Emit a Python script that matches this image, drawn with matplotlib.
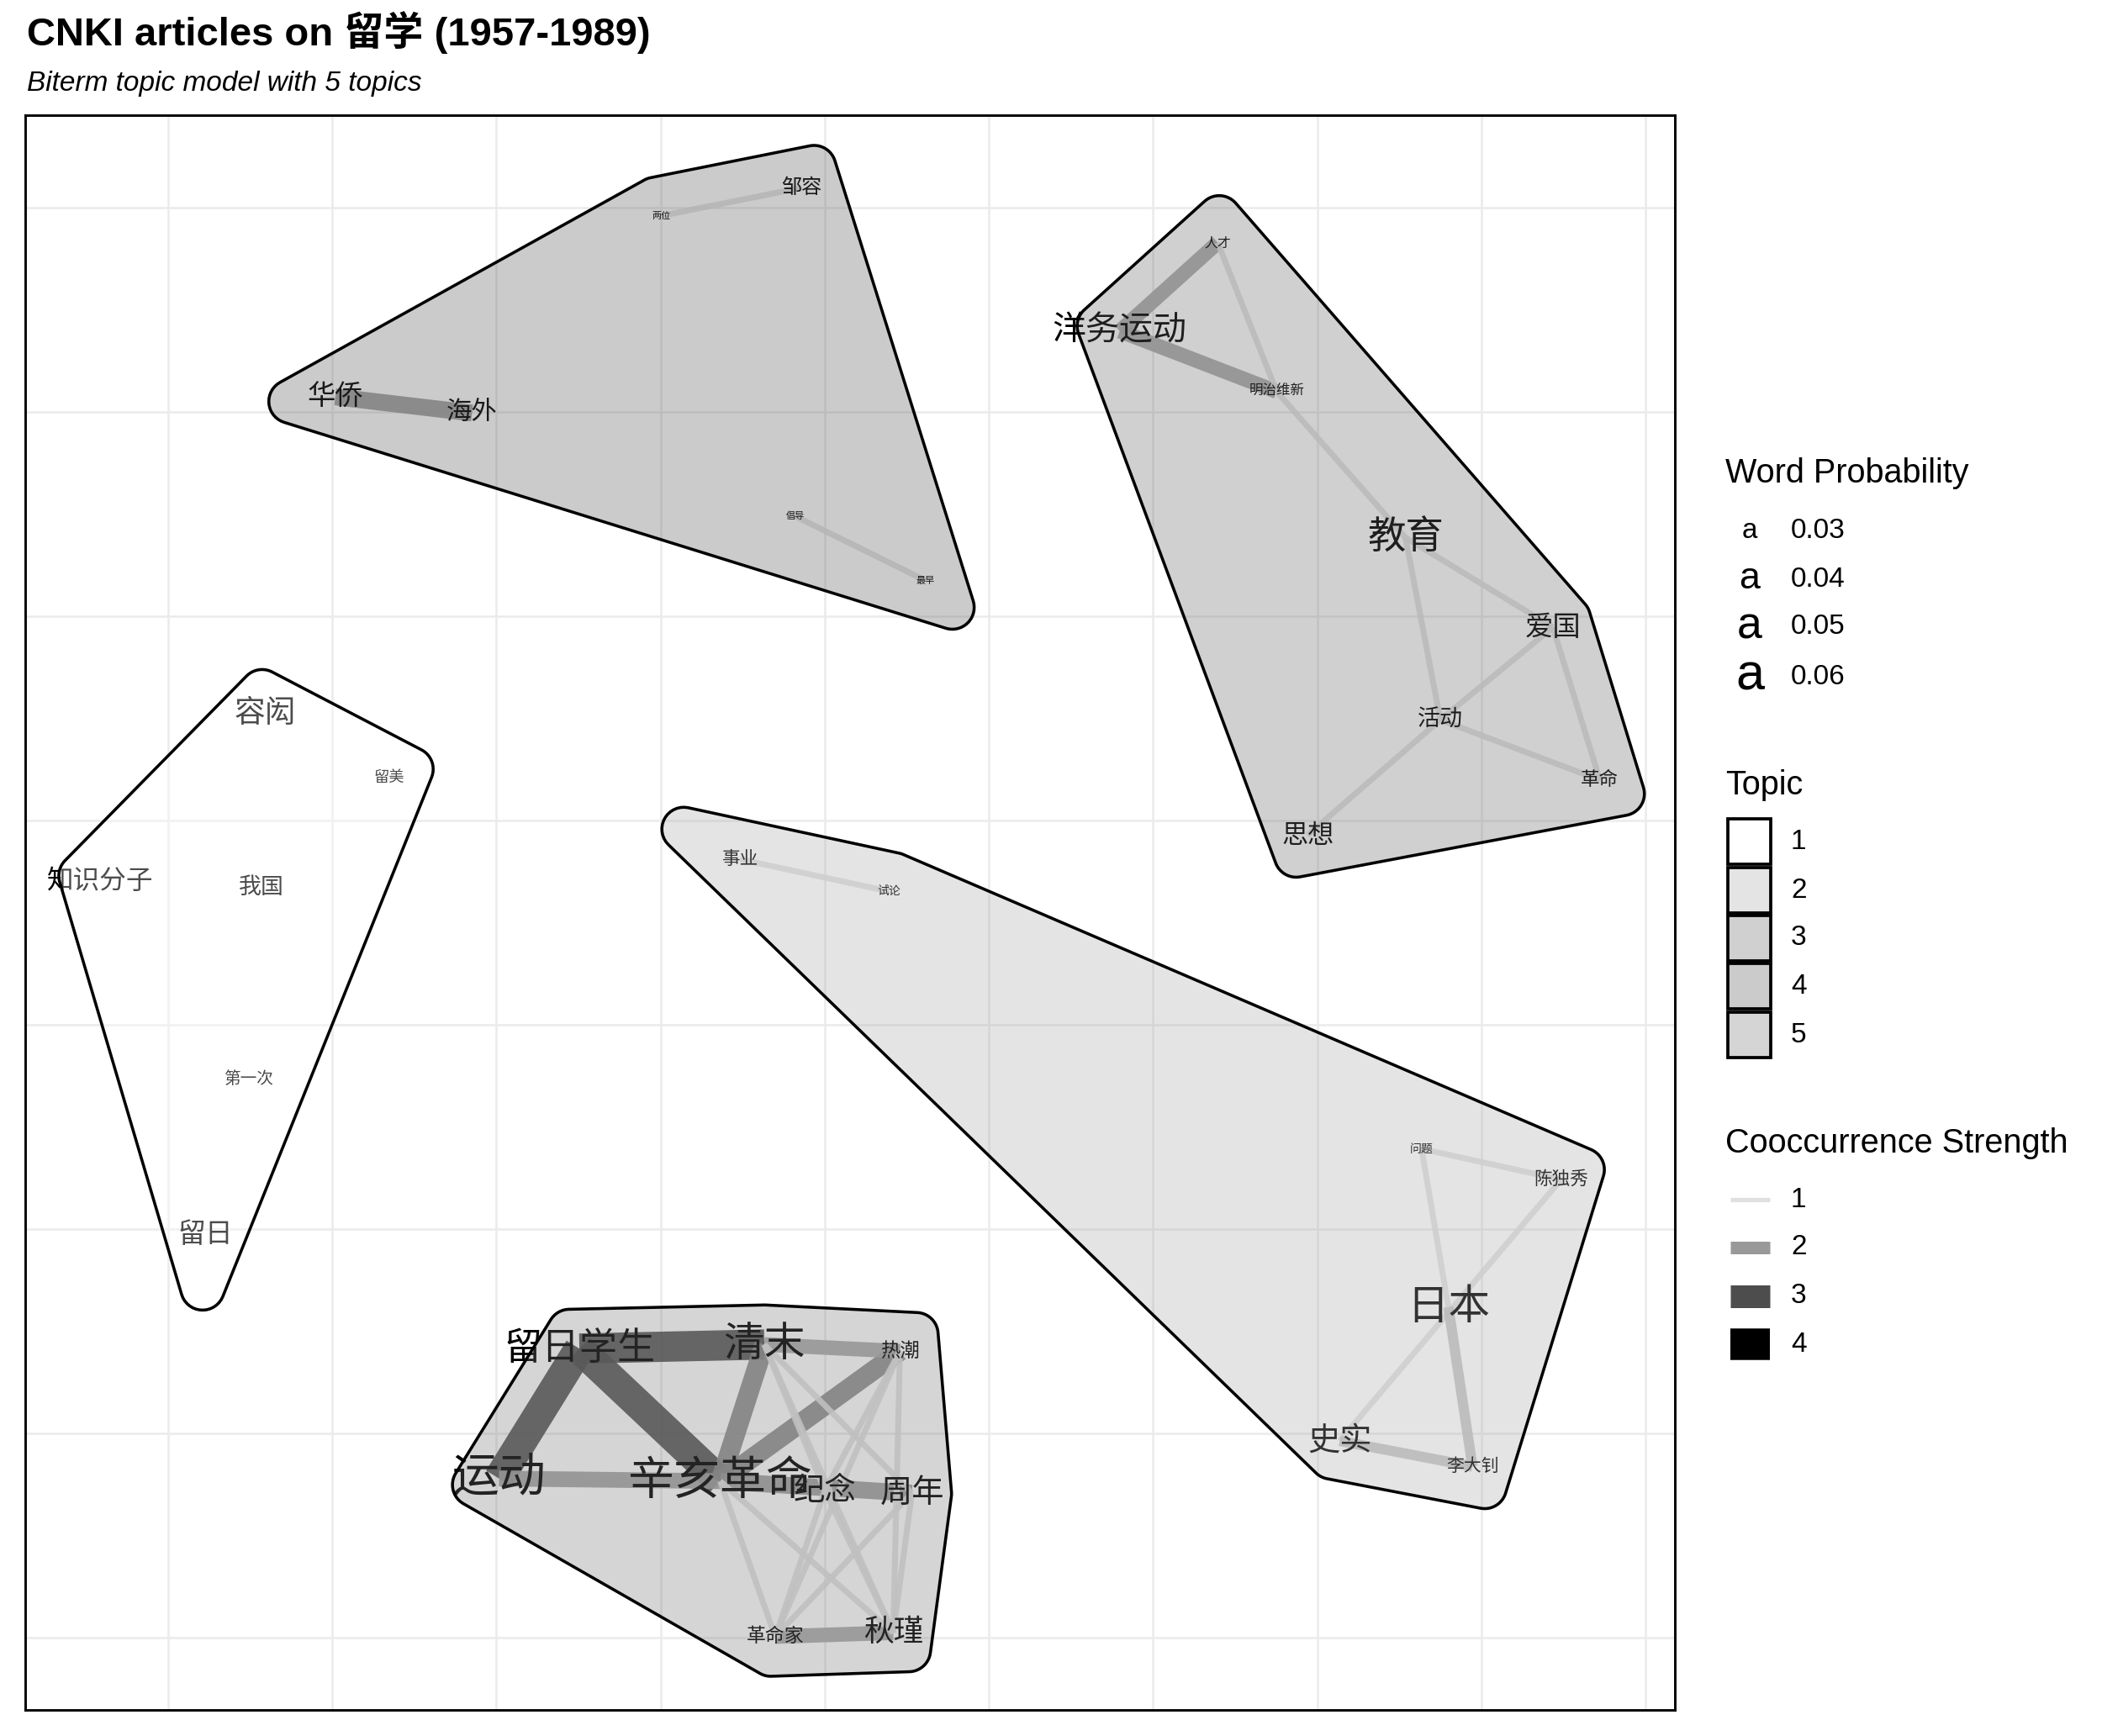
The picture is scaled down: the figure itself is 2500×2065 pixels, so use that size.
import numpy as np
import matplotlib
matplotlib.use("Agg")
import matplotlib.pyplot as plt
from matplotlib.patches import Polygon, Rectangle
from matplotlib.lines import Line2D

plt.rcParams['font.family'] = ['Liberation Sans', 'Noto Sans CJK SC', 'DejaVu Sans']

W, H, DPI = 2500, 2065, 300

# word nodes: label, topic, layout position, word probability
words = ['容闳', '留美', '知识分子', '我国', '第一次', '留日',
         '事业', '试论', '问题', '陈独秀', '日本', '史实', '李大钊',
         '人才', '洋务运动', '明治维新', '教育', '爱国', '活动', '革命', '思想',
         '华侨', '海外', '两位', '邹容', '倡导', '最早',
         '留日学生', '清末', '热潮', '运动', '辛亥革命', '纪念', '周年', '革命家', '秋瑾']
topic = [1, 1, 1, 1, 1, 1,
         2, 2, 2, 2, 2, 2, 2,
         3, 3, 3, 3, 3, 3, 3, 3,
         4, 4, 4, 4, 4, 4,
         5, 5, 5, 5, 5, 5, 5, 5, 5]
x = [1.593, 2.345, 0.588, 1.569, 1.487, 1.225,
     4.485, 5.392, 8.636, 9.485, 8.799, 8.137, 8.946,
     7.394, 6.797, 7.753, 8.538, 9.436, 8.750, 9.722, 7.941,
     2.018, 2.851, 4.003, 4.861, 4.820, 5.613,
     3.505, 4.632, 5.458, 3.015, 4.363, 5.000, 5.531, 4.698, 5.417]
y = [5.526, 5.211, 4.705, 4.673, 3.734, 2.973,
     4.810, 4.653, 3.393, 3.242, 2.619, 1.963, 1.838,
     7.829, 7.396, 7.100, 6.385, 5.946, 5.493, 5.198, 4.928,
     7.074, 6.995, 7.960, 8.098, 6.490, 6.175,
     2.415, 2.435, 2.402, 1.779, 1.766, 1.720, 1.707, 1.005, 1.024]
prob = [0.0327, 0.0220, 0.0289, 0.0260, 0.0225, 0.0298,
        0.0233, 0.0207, 0.0207, 0.0233, 0.0452, 0.0340, 0.0230,
        0.0212, 0.0355, 0.0214, 0.0407, 0.0301, 0.0260, 0.0237, 0.0286,
        0.0301, 0.0281, 0.0201, 0.0245, 0.0201, 0.0201,
        0.0403, 0.0443, 0.0241, 0.0528, 0.0517, 0.0333, 0.0340, 0.0239, 0.0320]

# cooccurrence edges
edge_from = ['华侨', '两位', '倡导',
             '洋务运动', '洋务运动', '人才', '明治维新', '教育', '教育', '爱国', '爱国', '活动', '活动',
             '事业', '问题', '问题', '陈独秀', '日本', '史实',
             '留日学生', '留日学生', '留日学生', '运动', '清末', '辛亥革命', '清末', '辛亥革命', '革命家',
             '清末', '清末', '清末', '热潮', '热潮', '热潮', '辛亥革命', '辛亥革命',
             '纪念', '纪念', '周年', '周年']
edge_to = ['海外', '邹容', '最早',
           '人才', '明治维新', '明治维新', '教育', '爱国', '活动', '活动', '革命', '革命', '思想',
           '试论', '陈独秀', '日本', '史实', '李大钊', '李大钊',
           '运动', '清末', '辛亥革命', '辛亥革命', '辛亥革命', '热潮', '热潮', '周年', '秋瑾',
           '纪念', '周年', '秋瑾', '纪念', '革命家', '秋瑾', '革命家', '秋瑾',
           '革命家', '秋瑾', '革命家', '秋瑾']
edge_strength = [2.0, 1.0, 1.0,
                 1.8, 1.8, 1.0, 1.0, 1.0, 1.0, 1.0, 1.0, 1.0, 1.0,
                 1.0, 1.0, 1.0, 1.0, 1.4, 1.4,
                 3.0, 3.0, 3.0, 1.9, 2.2, 2.2, 1.8, 2.0, 1.8,
                 1.0, 1.0, 1.0, 1.0, 1.0, 1.0, 1.0, 1.0,
                 1.0, 1.0, 1.0, 1.0]

topic_ids = [1, 2, 3, 4, 5]
topic_grey = [255, 168, 102, 85, 118]
prob_breaks = [0.03, 0.04, 0.05, 0.06]
strength_breaks = [1, 2, 3, 4]

HULL_ALPHA = 0.3
CJK = ['Noto Sans CJK SC', 'DejaVu Sans']


def word_size(p):
    return 1.0 + 68 * np.sqrt(max(p - 0.0195, 0))


def edge_width(s):
    return np.interp(s, [1, 2, 3, 4], [7, 20, 36, 50]) * 72 / DPI


def edge_grey(s):
    v = np.interp(s, [1, 2, 3, 4], [224, 153, 77, 0]) / 255
    return (v, v, v)


def convex_hull(pts):
    pts = sorted(map(tuple, pts))
    def cross(o, a, b):
        return (a[0] - o[0]) * (b[1] - o[1]) - (a[1] - o[1]) * (b[0] - o[0])
    lower, upper = [], []
    for p in pts:
        while len(lower) >= 2 and cross(lower[-2], lower[-1], p) <= 0:
            lower.pop()
        lower.append(p)
    for p in reversed(pts):
        while len(upper) >= 2 and cross(upper[-2], upper[-1], p) <= 0:
            upper.pop()
        upper.append(p)
    return np.array(lower[:-1] + upper[:-1])


def rounded_hull(pts, expand=47, radius=26):
    hv = convex_hull(pts)
    n = len(hv)
    normals = []
    for i in range(n):
        t = hv[(i + 1) % n] - hv[i]
        t = t / np.hypot(*t)
        normals.append(np.array([t[1], -t[0]]))
    d1 = expand - radius
    out = []
    for i in range(n):
        n0, n1 = normals[i - 1], normals[i]
        w = hv[i] + d1 * (n0 + n1) / (1 + n0 @ n1)
        a0 = np.arctan2(n0[1], n0[0])
        a1 = np.arctan2(n1[1], n1[0])
        if a1 < a0:
            a1 += 2 * np.pi
        for a in np.linspace(a0, a1, 16):
            out.append(w + radius * np.array([np.cos(a), np.sin(a)]))
    return np.array(out)


fig = plt.figure(figsize=(W / DPI, H / DPI), dpi=DPI)
ax = fig.add_axes([30 / W, 1 - 2034 / H, 1962 / W, 1897 / H])
ax.set_xlim(0.129, 10.179)
ax.set_ylim(0.646, 8.453)
ax.set_xticks(range(1, 11))
ax.set_yticks(range(1, 9))
ax.tick_params(length=0, labelbottom=False, labelleft=False)
ax.grid(True, color='#ebebeb', lw=0.6)
ax.set_axisbelow(True)
for sp in ax.spines.values():
    sp.set_linewidth(0.7)
    sp.set_color('black')

pos = {w: (xx, yy) for w, xx, yy in zip(words, x, y)}

for a, b, s in zip(edge_from, edge_to, edge_strength):
    ax.plot([pos[a][0], pos[b][0]], [pos[a][1], pos[b][1]], color=edge_grey(s),
            lw=edge_width(s), solid_capstyle='butt', alpha=0.9, zorder=1)

for w, xx, yy, p in zip(words, x, y, prob):
    ax.text(xx, yy, w, fontsize=word_size(p), family=CJK, ha='center', va='center',
            color='black', zorder=2)

for t, g in zip(topic_ids, topic_grey):
    pts = np.array([[xx, yy] for xx, yy, tt in zip(x, y, topic) if tt == t])
    px = ax.transData.transform(pts)
    poly = ax.transData.inverted().transform(rounded_hull(px))
    g = g / 255
    ax.add_patch(Polygon(poly, closed=True, facecolor=(g, g, g, HULL_ALPHA),
                         edgecolor='black', lw=0.85, joinstyle='round', zorder=3))


def fy(py):
    return 1 - py / H


fig.text(32 / W, fy(54), 'CNKI articles on 留学 (1957-1989)', fontsize=11.3,
         fontweight='bold', va='baseline')
fig.text(32 / W, fy(108), 'Biterm topic model with 5 topics', fontsize=8,
         style='italic', va='baseline')

# legends
fig.text(2052 / W, fy(563), 'Word Probability', fontsize=9.5, va='center')
for p, row in zip(prob_breaks, [631, 689, 746, 805]):
    fig.text(2081 / W, fy(row), 'a', fontsize=word_size(p), ha='center', va='center')
    fig.text(2130 / W, fy(row), f'{p:.2f}', fontsize=8, va='center')

fig.text(2052 / W, fy(934), 'Topic', fontsize=9.5, va='center')
for t, g, row in zip(topic_ids, topic_grey, [1001, 1059, 1116, 1173, 1231]):
    g = g / 255
    fig.add_artist(Rectangle((2055 / W, fy(row + 27)), 51 / W, 54 / H,
                             transform=fig.transFigure, facecolor=(g, g, g, HULL_ALPHA),
                             edgecolor='black', lw=0.9))
    fig.text(2130 / W, fy(row), str(t), fontsize=8, va='center')

fig.text(2052 / W, fy(1360), 'Cooccurrence Strength', fontsize=9.5, va='center')
for s, row in zip(strength_breaks, [1427, 1484, 1542, 1599]):
    fig.add_artist(Line2D([2058 / W, 2105 / W], [fy(row), fy(row)], transform=fig.transFigure,
                          color=edge_grey(s), lw=edge_width(s) * 0.75, solid_capstyle='butt'))
    fig.text(2130 / W, fy(row), str(s), fontsize=8, va='center')

fig.savefig('out.png', dpi=DPI, facecolor='white')
